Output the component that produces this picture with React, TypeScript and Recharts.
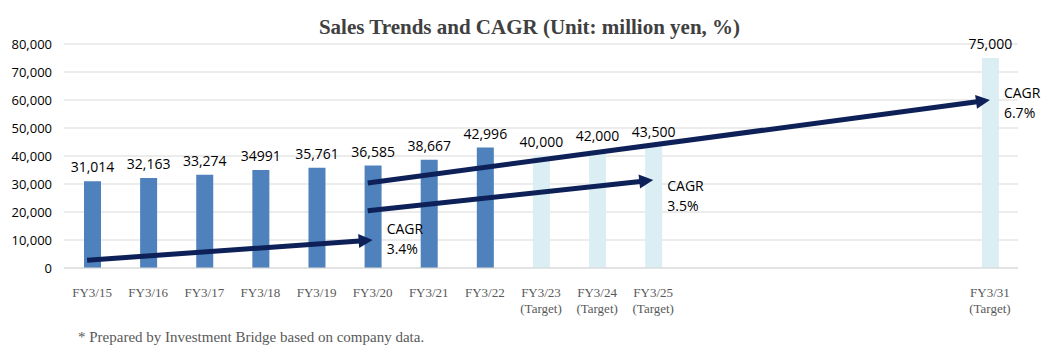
import React from 'react';
import {
  BarChart, Bar, XAxis, YAxis, CartesianGrid, Cell, LabelList, ReferenceLine, ReferenceDot,
} from 'recharts';

// fiscal years; FY3/26-FY3/30 are empty slots that keep the time gap
const categories = [
  'FY3/15', 'FY3/16', 'FY3/17', 'FY3/18', 'FY3/19', 'FY3/20', 'FY3/21', 'FY3/22',
  'FY3/23', 'FY3/24', 'FY3/25', 'FY3/26', 'FY3/27', 'FY3/28', 'FY3/29', 'FY3/30', 'FY3/31',
];
const sales = [
  31014, 32163, 33274, 34991, 35761, 36585, 38667, 42996,
  40000, 42000, 43500, null, null, null, null, null, 75000,
];
const salesLabels = [
  '31,014', '32,163', '33,274', '34991', '35,761', '36,585', '38,667', '42,996',
  '40,000', '42,000', '43,500', '', '', '', '', '', '75,000',
];
const isTarget = [
  false, false, false, false, false, false, false, false,
  true, true, true, true, true, true, true, true, true,
];
const yTicks = [0, 10000, 20000, 30000, 40000, 50000, 60000, 70000, 80000];

// CAGR arrows: start/end in data units, label anchor value
const cagrFrom = ['FY3/15', 'FY3/20', 'FY3/20'];
const cagrFromValue = [2900, 20600, 30600];
const cagrTo = ['FY3/20', 'FY3/25', 'FY3/31'];
const cagrToValue = [10000, 31400, 60000];
const cagrRate = ['3.4%', '3.5%', '6.7%'];
const cagrLabelValue = [13900, 29300, 62500];

const data = categories.map((c, i) => ({
  name: c, sales: sales[i], label: salesLabels[i], target: isTarget[i],
}));

const NAVY = '#0d2158';
const SANS = '"Open Sans", "Noto Sans", sans-serif';
const SERIF = '"Liberation Serif", "Times New Roman", serif';

function Arrow(props: any) {
  const { x1, y1, x2, y2 } = props;
  const dx = x2 - x1, dy = y2 - y1;
  const len = Math.sqrt(dx * dx + dy * dy) || 1;
  const ux = dx / len, uy = dy / len;
  const head = 14, half = 7;
  // the shaft starts a little before the category centre, as in the original
  const sx = x1 - ux * 5, sy = y1 - uy * 5;
  const bx = x2 - ux * head, by = y2 - uy * head;
  const px = -uy, py = ux;
  return (
    <g>
      <line x1={sx} y1={sy} x2={bx + ux} y2={by + uy} stroke={NAVY} strokeWidth={5} />
      <polygon
        points={`${x2},${y2} ${bx + px * half},${by + py * half} ${bx - px * half},${by - py * half}`}
        fill={NAVY}
      />
    </g>
  );
}

function XTick(props: any) {
  const { x, y, payload } = props;
  const i = categories.indexOf(payload.value);
  if (i < 0 || sales[i] == null) return null;
  return (
    <g>
      <text x={x} y={y + 21} textAnchor="middle" fontFamily={SERIF} fontSize={13} fill="#595959">
        {payload.value}
      </text>
      {isTarget[i] && (
        <text x={x} y={y + 37} textAnchor="middle" fontFamily={SERIF} fontSize={13} fill="#595959">
          (Target)
        </text>
      )}
    </g>
  );
}

function CagrLabel(text: string) {
  return (props: any) => {
    const { viewBox } = props;
    const x = viewBox.x + viewBox.width / 2 + 14;
    const y = viewBox.y + viewBox.height / 2;
    return (
      <g>
        <text x={x} y={y + 5} fontFamily={SANS} fontSize={14} fill="#000">CAGR</text>
        <text x={x} y={y + 25} fontFamily={SANS} fontSize={14} fill="#000">{text}</text>
      </g>
    );
  };
}

export default function App() {
  return (
    <div style={{ position: 'absolute', left: 0, top: 0, width: 1059, height: 358, background: '#fff' }}>
      <div style={{
        position: 'absolute', left: 0, top: 13, width: 1059, textAlign: 'center',
        fontFamily: SERIF, fontWeight: 'bold', fontSize: 21, color: '#404040', lineHeight: '28px',
      }}>
        Sales Trends and CAGR (Unit: million yen, %)
      </div>
      <BarChart width={1059} height={358} data={data}
        margin={{ top: 44, right: 41, bottom: 30, left: 0 }}>
        <CartesianGrid vertical={false} stroke="#d9d9d9" />
        <XAxis dataKey="name" height={60} interval={0} tickLine={false}
          axisLine={{ stroke: '#d9d9d9' }} tick={<XTick />} />
        <YAxis width={64} domain={[0, 80000]} ticks={yTicks} tickLine={false} axisLine={false}
          tickMargin={6} interval={0}
          tick={{ fontFamily: SANS, fontSize: 13, fill: '#000' }}
          tickFormatter={(v: number) => v.toLocaleString('en-US')} />
        <Bar dataKey="sales" barSize={17} isAnimationActive={false}>
          {data.map((d, i) => (
            <Cell key={i} fill={d.target ? '#daeef3' : '#4f81bd'} />
          ))}
          <LabelList dataKey="label" position="top" offset={9}
            style={{ fontFamily: SANS, fontSize: 14, fill: '#000' }} />
        </Bar>
        {cagrRate.map((r, i) => (
          <ReferenceLine key={'a' + i}
            segment={[{ x: cagrFrom[i], y: cagrFromValue[i] }, { x: cagrTo[i], y: cagrToValue[i] }]}
            shape={Arrow} ifOverflow="visible" />
        ))}
        {cagrRate.map((r, i) => (
          <ReferenceDot key={'l' + i} x={cagrTo[i]} y={cagrLabelValue[i]} r={0}
            fill="none" stroke="none" ifOverflow="visible" label={CagrLabel(r)} />
        ))}
      </BarChart>
      <div style={{
        position: 'absolute', left: 78, top: 327, fontFamily: SERIF, fontSize: 15,
        color: '#595959', lineHeight: '20px', whiteSpace: 'nowrap',
      }}>
        * Prepared by Investment Bridge based on company data.
      </div>
    </div>
  );
}
